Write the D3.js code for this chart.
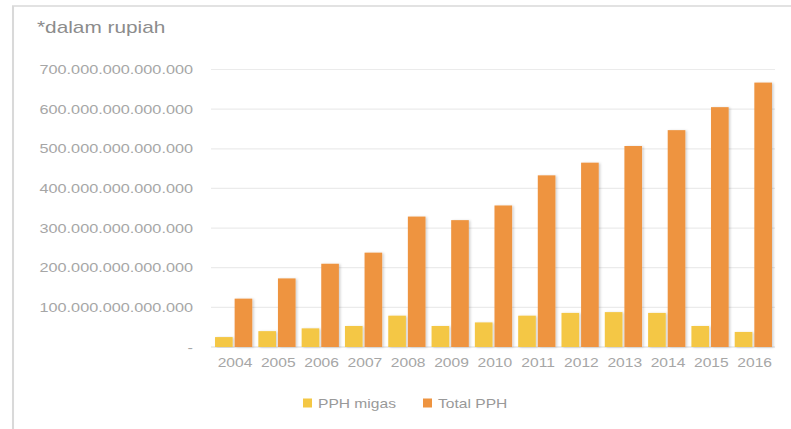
<!DOCTYPE html>
<html>
<head>
<meta charset="utf-8">
<script src="https://cdn.jsdelivr.net/npm/d3@7"></script>
<style>
  html, body { margin: 0; padding: 0; background: #fff; overflow: hidden; }
  svg { display: block; }
  text { font-family: "Liberation Sans", Arial, sans-serif; }
</style>
</head>
<body>
<div id="chart"></div>
<script>
// Data (rupiah)
const years = ["2004", "2005", "2006", "2007", "2008", "2009", "2010",
  "2011", "2012", "2013", "2014", "2015", "2016"];
const pphMigas = [25e12, 40e12, 47e12, 53e12, 79e12, 53e12, 62e12,
  79e12, 86e12, 88e12, 86e12, 53e12, 38e12];
const totalPph = [122e12, 173e12, 210e12, 238e12, 329e12, 320e12, 357e12,
  433e12, 465e12, 507e12, 547e12, 605e12, 667e12];
const yTicks = [0, 100e12, 200e12, 300e12, 400e12, 500e12, 600e12, 700e12];
const seriesNames = ["PPH migas", "Total PPH"];
const seriesColors = ["#f4c744", "#ee9440"];

// The picture is stretched sideways, so draw in narrower units
const sx = 1.3;
const width = 791, height = 429;
const u = (px) => px / sx;

const svg = d3.select("#chart").append("svg")
  .attr("width", width)
  .attr("height", height)
  .attr("viewBox", [0, 0, width / sx, height])
  .attr("preserveAspectRatio", "none");

// soft shadow like the spreadsheet bars
const defs = svg.append("defs");
defs.append("filter")
  .attr("id", "shadow")
  .attr("x", "-30%").attr("y", "-10%")
  .attr("width", "160%").attr("height", "120%")
  .append("feDropShadow")
  .attr("dx", 1.2).attr("dy", 0.5)
  .attr("stdDeviation", 0.8)
  .attr("flood-color", "#000")
  .attr("flood-opacity", 0.18);

// Frame (only top and left edges are inside the picture)
svg.append("path")
  .attr("d", `M${u(13)},${height + 5}V6H${width / sx + 5}`)
  .attr("fill", "none")
  .attr("stroke", "#d9d9d9")
  .attr("stroke-width", 1.6);

// Title
svg.append("text")
  .attr("x", u(37))
  .attr("y", 33)
  .attr("font-size", 16)
  .attr("fill", "#8c8c8c")
  .text("*dalam rupiah");

// Scales
const x = d3.scaleBand()
  .domain(years)
  .range([u(212), u(775)])
  .paddingInner(0.14)
  .paddingOuter(0.07);

const xSub = d3.scaleBand()
  .domain(seriesNames)
  .range([0, x.bandwidth()])
  .paddingInner(0.1);

const y = d3.scaleLinear()
  .domain([0, 700e12])
  .range([347, 69.5]);

const idLocale = d3.formatLocale({
  decimal: ",", thousands: ".", grouping: [3], currency: ["Rp", ""]
});
const fmt = idLocale.format(",.0f");

// Gridlines
svg.append("g")
  .selectAll("line")
  .data(yTicks)
  .join("line")
  .attr("x1", u(211))
  .attr("x2", u(775))
  .attr("y1", (d) => y(d))
  .attr("y2", (d) => y(d))
  .attr("stroke", (d) => (d === 0 ? "#d9d9d9" : "#ebebeb"))
  .attr("stroke-width", 1.2);

// Y axis labels
const yAxis = svg.append("g")
  .attr("transform", `translate(${u(211)},0)`)
  .call(d3.axisLeft(y).tickValues(yTicks)
    .tickFormat((d) => (d === 0 ? "-" : fmt(d)))
    .tickSize(0).tickPadding(u(18)));
yAxis.select(".domain").remove();
yAxis.selectAll("text")
  .attr("font-size", 12.5)
  .attr("fill", "#a6a6a6")
  .style("font-family", "'Liberation Sans', Arial, sans-serif");

// X axis labels
const xAxis = svg.append("g")
  .attr("transform", `translate(0,${y(0)})`)
  .call(d3.axisBottom(x).tickSize(0).tickPadding(11));
xAxis.select(".domain").remove();
xAxis.selectAll("text")
  .attr("font-size", 12)
  .attr("fill", "#a6a6a6")
  .attr("dx", 1)
  .style("font-family", "'Liberation Sans', Arial, sans-serif");

// Bars
const rows = years.map((yr, i) => ({
  year: yr,
  values: [
    { name: seriesNames[0], value: pphMigas[i], color: seriesColors[0] },
    { name: seriesNames[1], value: totalPph[i], color: seriesColors[1] },
  ],
}));

svg.append("g")
  .selectAll("g")
  .data(rows)
  .join("g")
  .attr("transform", (d) => `translate(${x(d.year)},0)`)
  .selectAll("rect")
  .data((d) => d.values)
  .join("rect")
  .attr("x", (d) => xSub(d.name))
  .attr("width", xSub.bandwidth())
  .attr("y", (d) => y(d.value))
  .attr("height", (d) => y(0) - y(d.value))
  .attr("fill", (d) => d.color)
  .attr("filter", "url(#shadow)");

// Legend
const legendX = [u(303), u(423)];
const legend = svg.append("g")
  .selectAll("g")
  .data(seriesNames)
  .join("g")
  .attr("transform", (d, i) => `translate(${legendX[i]},403)`);

legend.append("rect")
  .attr("x", 0)
  .attr("y", -4.5)
  .attr("width", u(9))
  .attr("height", 9)
  .attr("fill", (d, i) => seriesColors[i]);

legend.append("text")
  .attr("x", u(15))
  .attr("y", 4.5)
  .attr("font-size", 12)
  .attr("fill", "#999")
  .text((d) => d);
</script>
</body>
</html>
